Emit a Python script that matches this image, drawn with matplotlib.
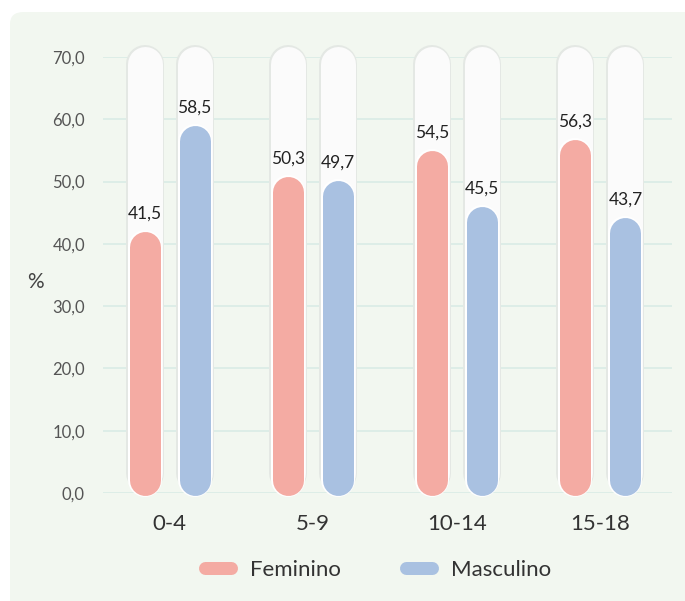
import matplotlib
matplotlib.use("Agg")
import matplotlib.pyplot as plt
from matplotlib.patches import FancyBboxPatch
from matplotlib.lines import Line2D
from matplotlib.ticker import FuncFormatter

groups = ["0-4", "5-9", "10-14", "15-18"]
feminino = [41.5, 50.3, 54.5, 56.3]
masculino = [58.5, 49.7, 45.5, 43.7]
series_names = ["Feminino", "Masculino"]

PINK = "#f4aba3"
BLUE = "#a9c1e1"
PANEL = "#f2f7f0"
GRID = "#d9ece6"
FONT = ["Lato", "DejaVu Sans"]
plt.rcParams["font.family"] = FONT

DPI = 100
W, H = 685, 601
PT = 72 / DPI  # points per pixel

fig = plt.figure(figsize=(W / DPI, H / DPI), dpi=DPI)
fig.patch.set_facecolor("white")
panel = FancyBboxPatch((10 / W, -20 / H), (W + 20 - 10) / W, (H - 12 + 20) / H,
                       boxstyle="round,pad=0,rounding_size=0.02",
                       transform=fig.transFigure, facecolor=PANEL, edgecolor="none",
                       zorder=-10)
fig.patches.append(panel)

ax = fig.add_axes([103 / W, (H - 493) / H, (672 - 103) / W, 436 / H])
ax.set_facecolor("none")
ax.set_xlim(-0.463, 3.498)
ax.set_ylim(0, 70)
ppu = 436 / 70  # pixels per data unit in y

ax.set_yticks(range(0, 71, 10))
ax.yaxis.set_major_formatter(FuncFormatter(lambda v, _: f"{v:.1f}".replace(".", ",")))
ax.tick_params(axis="y", length=0, pad=13, labelsize=12, labelcolor="#555555")
ax.set_xticks(range(len(groups)))
ax.set_xticklabels(groups)
ax.tick_params(axis="x", length=0, pad=15, labelsize=16, labelcolor="#333333")
for s in ax.spines.values():
    s.set_visible(False)
ax.grid(axis="y", color=GRID, lw=1.2)
ax.set_axisbelow(True)

off = 25 / 143.7
track_lo = 20 / ppu
track_hi = 70 - (64 - 57) / ppu
for i in range(len(groups)):
    for j, (vals, col) in enumerate([(feminino, PINK), (masculino, BLUE)]):
        x = i + (-off if j == 0 else off)
        v = vals[i]
        ax.plot([x, x], [track_lo, track_hi], color="#e4e8e4", lw=38 * PT,
                solid_capstyle="round", zorder=2, clip_on=False)
        ax.plot([x, x], [track_lo, track_hi], color="#fbfbfb", lw=35 * PT,
                solid_capstyle="round", zorder=3, clip_on=False)
        lo = 13.5 / ppu
        hi = v - 12.5 / ppu
        ax.plot([x, x], [lo, hi], color="white", lw=34 * PT,
                solid_capstyle="round", zorder=4, clip_on=False)
        ax.plot([x, x], [lo, hi], color=col, lw=31 * PT,
                solid_capstyle="round", zorder=5, clip_on=False)
        ax.annotate(f"{v:.1f}".replace(".", ","), (x, v), xytext=(0, 16 * PT),
                    textcoords="offset points", ha="center", va="baseline",
                    fontsize=12.5, color="#222222", zorder=6)

fig.text(35 / W, 1 - 282 / H, "%", ha="center", va="center", fontsize=15, color="#444444")

handles = [Line2D([0], [0], color=c, lw=13 * PT, solid_capstyle="round")
           for c in (PINK, BLUE)]
fig.legend(handles, series_names, loc="center", bbox_to_anchor=(378 / W, 1 - 570 / H),
           ncol=2, frameon=False, fontsize=16, handlelength=1.17, columnspacing=2.9,
           handletextpad=0.88, labelcolor="#333333")

fig.savefig("out.png", dpi=DPI)
